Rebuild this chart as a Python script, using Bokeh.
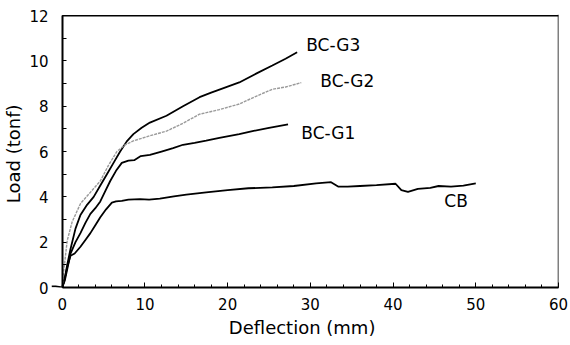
from bokeh.plotting import figure
from bokeh.models import Range1d, LinearAxis, FixedTicker, Label, Span
from bokeh.embed import file_html
from bokeh.resources import INLINE

# ---- data ----
x_ticks = [0, 10, 20, 30, 40, 50, 60]
y_ticks = [0, 2, 4, 6, 8, 10, 12]
x_minor = list(range(0, 61, 2))
y_minor = list(range(0, 13))

cb_x = [-1.3, -0.8, 0, 0.3, 0.6, 1.0, 1.5, 2.2, 2.8, 3.4, 4.0, 4.6, 5.3, 6.0, 6.5, 7.2, 8.0,
        9.4, 10.5, 11.8, 13.5, 15, 17.4, 20, 22.5, 25.4, 28, 30.7, 32.5, 33.4, 34.5, 36, 38,
        40.3, 41, 41.8, 43, 44.5, 45.5, 47, 48.5, 50]
cb_y = [0.05, 0.05, 0, 0.4, 0.9, 1.4, 1.5, 1.8, 2.1, 2.4, 2.75, 3.1, 3.45, 3.75, 3.8, 3.82, 3.88,
        3.9, 3.88, 3.92, 4.02, 4.1, 4.2, 4.3, 4.38, 4.42, 4.48, 4.6, 4.65, 4.45, 4.45, 4.48, 4.52,
        4.58, 4.3, 4.22, 4.35, 4.4, 4.48, 4.45, 4.5, 4.6]

g1_x = [0, 0.3, 0.6, 1.0, 1.6, 2.2, 2.8, 3.4, 4.0, 4.6, 5.2, 5.8, 6.5, 7.2, 8.0, 8.7, 9.5, 10.6,
        12, 13.4, 14.6, 16, 17.4, 19, 21.4, 23, 25, 27.3]
g1_y = [0, 0.3, 0.8, 1.5, 2.0, 2.4, 2.85, 3.25, 3.5, 3.8, 4.25, 4.7, 5.15, 5.5, 5.6, 5.62, 5.8, 5.85,
        6.0, 6.15, 6.3, 6.38, 6.48, 6.6, 6.77, 6.9, 7.05, 7.2]

g2_x = [0, 0.2, 0.6, 1.2, 2.2, 3.4, 4.6, 5.6, 6.6, 7.6, 8.6, 10.6, 12.6, 14.6, 16.6, 19, 21.4,
        23.5, 25.4, 27, 28.9]
g2_y = [0, 0.8, 2.07, 2.9, 3.7, 4.2, 4.7, 5.4, 6.0, 6.3, 6.47, 6.7, 6.9, 7.25, 7.65, 7.85, 8.1,
        8.45, 8.75, 8.85, 9.04]

g3_x = [0, 0.3, 0.6, 1.0, 1.6, 2.2, 3.0, 3.8, 4.6, 5.4, 6.2, 7.0, 7.8, 8.6, 9.6, 10.6, 12.6, 14.6,
        16.6, 18, 19.5, 21.4, 23.5, 25.4, 27, 28.4]
g3_y = [0, 0.4, 1.0, 1.7, 2.6, 3.2, 3.65, 4.0, 4.5, 5.0, 5.5, 6.0, 6.45, 6.77, 7.05, 7.28, 7.58, 8.0,
        8.4, 8.6, 8.8, 9.05, 9.45, 9.8, 10.1, 10.38]

series_names = ["BC-G3", "BC-G2", "BC-G1", "CB"]
label_pos = {"BC-G3": (29.5, 10.72), "BC-G2": (31.2, 9.13), "BC-G1": (28.9, 6.84), "CB": (46.2, 3.81)}

FONT = "DejaVu Sans"
X0, X1 = 0, 60
Y0, Y1 = 0, 12
X_LEFT = -1.3

p = figure(width=570, height=345, output_backend="svg", toolbar_location=None,
           x_range=Range1d(X_LEFT, X1), y_range=Range1d(Y0, Y1 + 0.05),
           x_axis_type=None, y_axis_type=None,
           min_border_left=51, min_border_right=12, min_border_top=14, min_border_bottom=58)
p.outline_line_color = None
p.grid.visible = False
p.background_fill_color = "white"
p.border_fill_color = "white"

# bottom axis (at frame bottom = load 0)
xaxis = LinearAxis(ticker=FixedTicker(ticks=x_ticks, minor_ticks=x_minor), bounds=(X0, X1))
xaxis.axis_label = "Deflection  (mm)"
xaxis.axis_line_width = 2
xaxis.major_tick_in = 5
xaxis.major_tick_out = 0
xaxis.minor_tick_in = 3
xaxis.minor_tick_out = 0
xaxis.major_label_standoff = 10
xaxis.major_label_text_font = FONT
xaxis.major_label_text_font_size = "15px"
xaxis.major_label_text_color = "black"
xaxis.axis_label_text_font = FONT
xaxis.axis_label_text_font_size = "18px"
xaxis.axis_label_text_font_style = "normal"
xaxis.axis_label_text_color = "black"
xaxis.axis_label_standoff = 4
p.add_layout(xaxis, "below")

# left axis: tick labels + title (at frame left)
ylab = LinearAxis(ticker=FixedTicker(ticks=y_ticks))
ylab.axis_line_color = None
ylab.major_tick_line_color = None
ylab.minor_tick_line_color = None
ylab.major_tick_in = 0
ylab.major_tick_out = 0
ylab.major_label_standoff = 3
ylab.major_label_text_font = FONT
ylab.major_label_text_font_size = "15px"
ylab.major_label_text_color = "black"
ylab.axis_label = "Load  (tonf)"
ylab.axis_label_text_font = FONT
ylab.axis_label_text_font_size = "18px"
ylab.axis_label_text_font_style = "normal"
ylab.axis_label_text_color = "black"
ylab.axis_label_standoff = 2
p.add_layout(ylab, "left")

# left axis line + inside ticks at deflection 0 (ticks only, no labels)
yline = LinearAxis(ticker=FixedTicker(ticks=[], minor_ticks=y_minor),
                   bounds=(Y0, Y1), fixed_location=X0)
yline.axis_line_width = 2
yline.minor_tick_in = 4
yline.minor_tick_out = 0
yline.major_tick_in = 0
yline.major_tick_out = 0
yline.major_label_standoff = 0
p.add_layout(yline, "left")

# frame: top and right borders
p.segment(x0=[X0], y0=[Y1], x1=[X1], y1=[Y1], line_color="black", line_width=1.5)
p.add_layout(Span(location=X1, dimension="height", line_color="black", line_width=1.5))

p.line(cb_x, cb_y, line_color="black", line_width=1.8)
p.line(g1_x, g1_y, line_color="black", line_width=1.8)
p.line(g3_x, g3_y, line_color="black", line_width=1.8)
p.line(g2_x, g2_y, line_color="#9a9a9a", line_width=1.4, line_dash="3 1")

for name in series_names:
    lx, ly = label_pos[name]
    p.add_layout(Label(x=lx, y=ly, text=name, text_font=FONT, text_font_size="17px",
                       text_baseline="middle", text_align="left", text_color="black"))

open("out.html", "w").write(file_html(p, INLINE))
